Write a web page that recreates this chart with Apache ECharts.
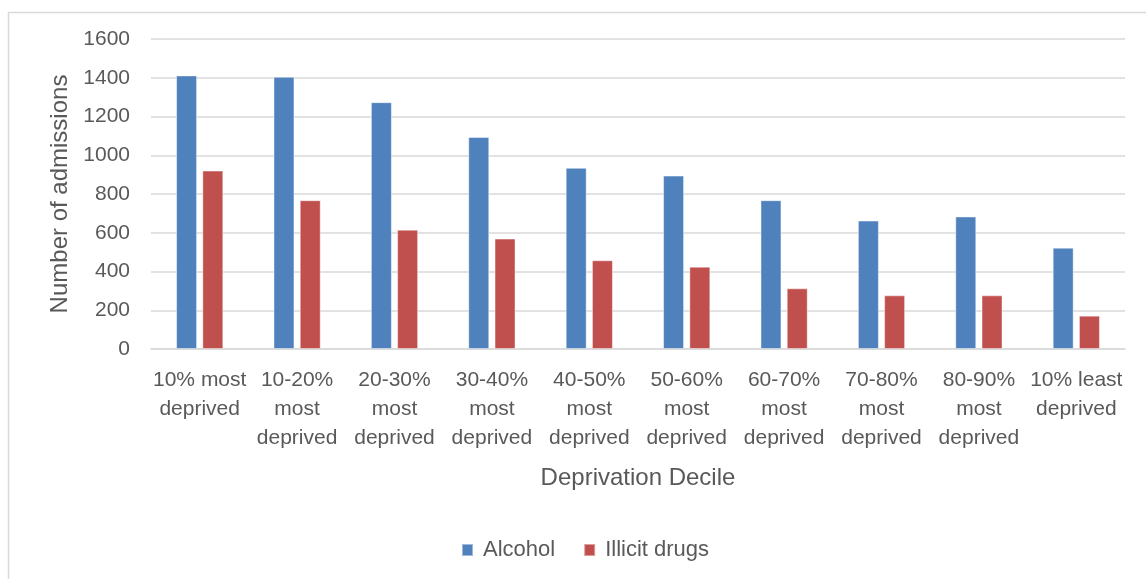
<!DOCTYPE html>
<html>
<head>
<meta charset="utf-8">
<script src="https://cdn.jsdelivr.net/npm/echarts@6/dist/echarts.min.js"></script>
<style>
html, body { margin: 0; padding: 0; background: #fff; }
#chartmain { width: 1146px; height: 579px; }
</style>
</head>
<body>
<div id="chartmain"></div>
<script>
// 数据
var categories = ['10% most\ndeprived', '10-20%\nmost\ndeprived', '20-30%\nmost\ndeprived', '30-40%\nmost\ndeprived',
    '40-50%\nmost\ndeprived', '50-60%\nmost\ndeprived', '60-70%\nmost\ndeprived', '70-80%\nmost\ndeprived',
    '80-90%\nmost\ndeprived', '10% least\ndeprived'];
var alcohol = [1412, 1405, 1274, 1094, 935, 895, 768, 663, 684, 523];
var illicitDrugs = [921, 768, 616, 570, 458, 425, 313, 277, 277, 172];

var font = '"Liberation Sans", Arial, sans-serif';
var chart = echarts.init(document.getElementById('chartmain'));

option = {
    animation: false,
    textStyle: { fontFamily: font },
    color: ['#4f81bd', '#c0504d'],
    graphic: [{
        type: 'rect',
        left: 6, top: 10,
        shape: { width: 1160, height: 600 },
        style: { fill: 'none', stroke: '#d9d9d9', lineWidth: 1.5 },
        silent: true
    }],
    grid: { left: 151, right: 21, top: 39, bottom: 230 },
    legend: {
        left: 456, top: 534,
        icon: 'rect', itemWidth: 11, itemHeight: 12, itemGap: 28,
        textStyle: { color: '#595959', fontSize: 22, fontFamily: font, padding: [0, 0, 0, 5] },
        data: ['Alcohol', 'Illicit drugs']
    },
    xAxis: {
        type: 'category',
        data: categories,
        name: 'Deprivation Decile',
        nameLocation: 'middle',
        nameGap: 117,
        nameTextStyle: { color: '#595959', fontSize: 24, fontFamily: font },
        axisLine: { lineStyle: { color: '#d9d9d9', width: 1.5 } },
        axisTick: { show: false },
        axisLabel: { color: '#595959', fontSize: 21, lineHeight: 29, margin: 17, interval: 0, fontFamily: font }
    },
    yAxis: {
        type: 'value',
        min: 0, max: 1600, interval: 200,
        name: 'Number of admissions',
        nameLocation: 'middle',
        nameGap: 78,
        nameTextStyle: { color: '#595959', fontSize: 24, fontFamily: font },
        axisLine: { show: false },
        axisTick: { show: false },
        splitLine: { lineStyle: { color: '#d9d9d9', width: 1.5 } },
        axisLabel: { color: '#595959', fontSize: 21, margin: 21, fontFamily: font,
            formatter: function (v) { return String(v); } }
    },
    series: [
        {
            name: 'Alcohol', type: 'bar', data: alcohol,
            barWidth: 21, barGap: '25%',
            itemStyle: { borderColor: 'rgba(255,255,255,0.45)', borderWidth: 1 }
        },
        {
            name: 'Illicit drugs', type: 'bar', data: illicitDrugs,
            barWidth: 21, barGap: '25%',
            itemStyle: { borderColor: 'rgba(255,255,255,0.45)', borderWidth: 1 }
        }
    ]
};
chart.setOption(option);
</script>
</body>
</html>
